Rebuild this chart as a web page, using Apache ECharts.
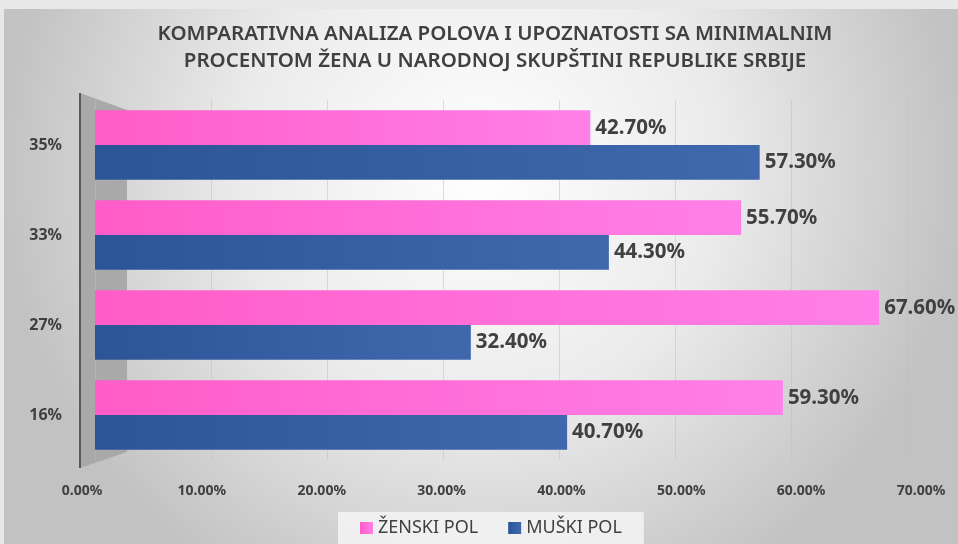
<!DOCTYPE html>
<html><head><meta charset="utf-8">
<script src="https://cdn.jsdelivr.net/npm/echarts@6/dist/echarts.min.js"></script>
<style>html,body{margin:0;padding:0;background:#e8e8e8}#c{width:958px;height:544px}</style>
</head><body><div id="c"></div>
<script>
const titleLines = ['KOMPARATIVNA ANALIZA POLOVA I UPOZNATOSTI SA MINIMALNIM', 'PROCENTOM ŽENA U NARODNOJ SKUPŠTINI REPUBLIKE SRBIJE'];
const categories = ['16%', '27%', '33%', '35%'];
const seriesNames = ['ŽENSKI POL', 'MUŠKI POL'];
const femaleValues = [59.3, 67.6, 55.7, 42.7];
const maleValues = [40.7, 32.4, 44.3, 57.3];
const axisMin = 0, axisMax = 70, axisStep = 10;

const chart = echarts.init(document.getElementById('c'));
const txt = '#404040';
const font = '"Noto Sans", sans-serif';
function grad(c1, c2) {
  return new echarts.graphic.LinearGradient(0, 0, 1, 0, [{offset: 0, color: c1}, {offset: 1, color: c2}]);
}
const option = {
  backgroundColor: '#e8e8e8',
  textStyle: {fontFamily: font},
  graphic: [
    {type: 'rect', z: -10, shape: {x: 4, y: 9, width: 954, height: 535},
     style: {fill: new echarts.graphic.RadialGradient(0.5, 0.3, 0.9, [
       {offset: 0, color: '#ffffff'}, {offset: 0.5, color: '#ebebeb'}, {offset: 1, color: '#c2c2c2'}])}},
    {type: 'polygon', z: -5, shape: {points: [[80, 93], [127, 110], [127, 452], [80, 468]]},
     style: {fill: '#a9a9a9'}},
    {type: 'line', z: -4, shape: {x1: 80, y1: 93, x2: 80, y2: 468}, style: {stroke: '#595959', lineWidth: 2}}
  ],
  title: {
    text: titleLines.join('\n'), left: 490, textAlign: 'center', top: 16,
    textStyle: {fontFamily: font, fontSize: 20.5, fontWeight: 600, color: txt, lineHeight: 27}
  },
  legend: {
    data: seriesNames, bottom: 0, left: 338, icon: 'rect', itemWidth: 13, itemHeight: 12, itemGap: 30,
    backgroundColor: 'rgba(246,246,246,0.8)', padding: [7, 22, 7, 22],
    textStyle: {fontFamily: font, fontSize: 18, color: txt}
  },
  grid: [
    {left: 95, right: 51, top: 100, bottom: 84},
    {left: 82, right: 37, top: 100, bottom: 84}
  ],
  xAxis: [
    {gridIndex: 0, type: 'value', min: axisMin, max: axisMax, interval: axisStep,
     axisLabel: {show: false}, axisLine: {show: false}, axisTick: {show: false},
     splitLine: {show: true, lineStyle: {color: 'rgba(190,190,190,0.5)'}}},
    {gridIndex: 1, type: 'value', min: axisMin, max: axisMax, interval: axisStep,
     axisLabel: {show: true, margin: 24, color: txt, fontSize: 14, fontWeight: 'bold', fontFamily: font,
       formatter: v => v.toFixed(2) + '%'},
     axisLine: {show: false}, axisTick: {show: false}, splitLine: {show: false}}
  ],
  yAxis: [
    {gridIndex: 0, type: 'category', data: categories,
     axisLabel: {margin: 33, color: txt, fontSize: 16, fontWeight: 'bold', fontFamily: font},
     axisLine: {show: false}, axisTick: {show: false}},
    {gridIndex: 1, type: 'category', data: categories, show: false}
  ],
  series: [
    {name: seriesNames[0], type: 'bar', data: femaleValues, xAxisIndex: 0, yAxisIndex: 0,
     barGap: '0%', barCategoryGap: '23%',
     itemStyle: {color: grad('#ff5cc8', '#ff80e8')},
     label: {show: true, position: 'right', distance: 5, color: txt, fontSize: 20.5, fontWeight: 'bold', fontFamily: font,
       formatter: p => p.value.toFixed(2) + '%'}},
    {name: seriesNames[1], type: 'bar', data: maleValues, xAxisIndex: 0, yAxisIndex: 0,
     barGap: '0%', barCategoryGap: '23%',
     itemStyle: {color: grad('#2c5598', '#4068ad')},
     label: {show: true, position: 'right', distance: 5, color: txt, fontSize: 20.5, fontWeight: 'bold', fontFamily: font,
       formatter: p => p.value.toFixed(2) + '%'}}
  ]
};
chart.setOption(option);
</script></body></html>
